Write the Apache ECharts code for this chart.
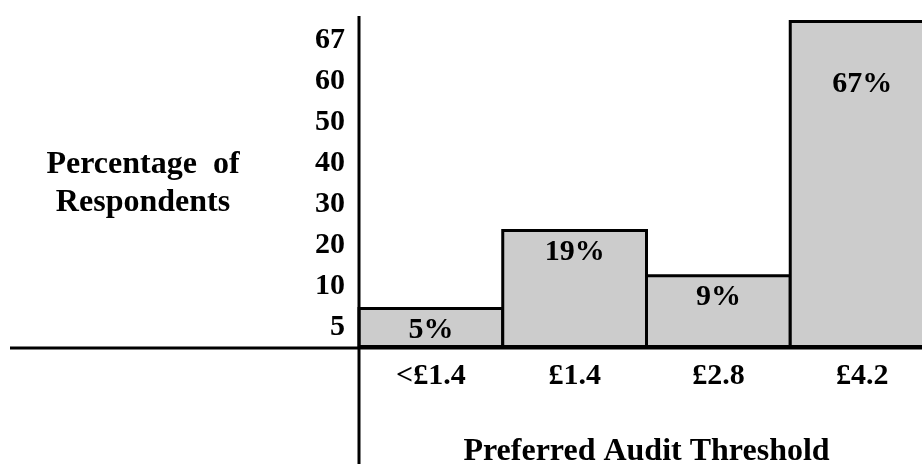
<!DOCTYPE html>
<html>
<head>
<meta charset="utf-8">
<title>Preferred Audit Threshold</title>
<script src="https://cdn.jsdelivr.net/npm/echarts@6/dist/echarts.min.js"></script>
<style>
  html, body { margin: 0; padding: 0; background: #ffffff; }
  #chart { width: 922px; height: 464px; }
</style>
</head>
<body>
<div id="chart"></div>
<script>
// Threshold categories along the bottom
const thresholds = ['<£1.4', '£1.4', '£2.8', '£4.2'];
// Share of respondents preferring each threshold (%)
const respondentShares = [5, 19, 9, 67];
// Tick values printed up the vertical axis (evenly spaced rows)
const yTickLabels = ['5', '10', '20', '30', '40', '50', '60', '67'];

// The vertical axis is ordinal: each printed tick value occupies one equal row.
// Map a percentage onto that row scale by interpolating between tick values.
const tickStops = [0].concat(yTickLabels.map(Number));
function toRowScale(v) {
  for (let i = 0; i < tickStops.length - 1; i++) {
    const a = tickStops[i], b = tickStops[i + 1];
    if (v <= b) return i + (v - a) / (b - a);
  }
  return tickStops.length - 1;
}

const FONT = "'Liberation Serif', 'Times New Roman', serif";
const chart = echarts.init(document.getElementById('chart'), null, { renderer: 'canvas' });

chart.setOption({
  animation: false,
  backgroundColor: '#ffffff',
  grid: {
    left: 359, right: -12, top: 20, bottom: 116,
    containLabel: false,
    outerBoundsMode: 'none'
  },
  xAxis: {
    type: 'category',
    data: thresholds,
    axisLine: { show: false },
    axisTick: { show: false },
    axisLabel: {
      margin: 13,
      fontFamily: FONT, fontWeight: 'bold', fontSize: 30, color: '#000'
    },
    name: 'Preferred Audit Threshold',
    nameLocation: 'middle',
    nameGap: 88,
    nameTextStyle: { fontFamily: FONT, fontWeight: 'bold', fontSize: 32, color: '#000' }
  },
  yAxis: [
    {
      type: 'value',
      min: 0,
      max: yTickLabels.length,
      show: false
    },
    {
      type: 'category',
      data: yTickLabels,
      position: 'left',
      boundaryGap: true,
      axisLine: { show: false },
      axisTick: { show: false },
      splitLine: { show: false },
      axisLabel: {
        margin: 14,
        padding: [8, 0, 0, 0],
        fontFamily: FONT, fontWeight: 'bold', fontSize: 30, color: '#000'
      },
      name: 'Percentage  of\nRespondents',
      nameLocation: 'middle',
      nameRotate: 0,
      nameGap: 216,
      nameTextStyle: {
        fontFamily: FONT, fontWeight: 'bold', fontSize: 32, color: '#000',
        align: 'center', verticalAlign: 'middle', lineHeight: 38
      }
    }
  ],
  graphic: [
    { type: 'line', z: 100, shape: { x1: 359, y1: 16, x2: 359, y2: 464 }, style: { stroke: '#000', lineWidth: 3 } },
    { type: 'line', z: 100, shape: { x1: 10, y1: 348, x2: 922, y2: 348 }, style: { stroke: '#000', lineWidth: 3 } }
  ],
  series: [{
    type: 'bar',
    xAxisIndex: 0,
    yAxisIndex: 0,
    // slightly negative gap so neighbouring outlines share one stroke
    barCategoryGap: '-2.087%',
    data: respondentShares.map(function (v, i) {
      return {
        value: toRowScale(v),
        label: { distance: i === respondentShares.length - 1 ? 49 : 8 }
      };
    }),
    itemStyle: { color: '#cccccc', borderColor: '#000', borderWidth: 3 },
    label: {
      show: true,
      position: 'insideTop',
      formatter: function (p) { return respondentShares[p.dataIndex] + '%'; },
      fontFamily: FONT, fontWeight: 'bold', fontSize: 30, color: '#000'
    }
  }]
});
</script>
</body>
</html>
